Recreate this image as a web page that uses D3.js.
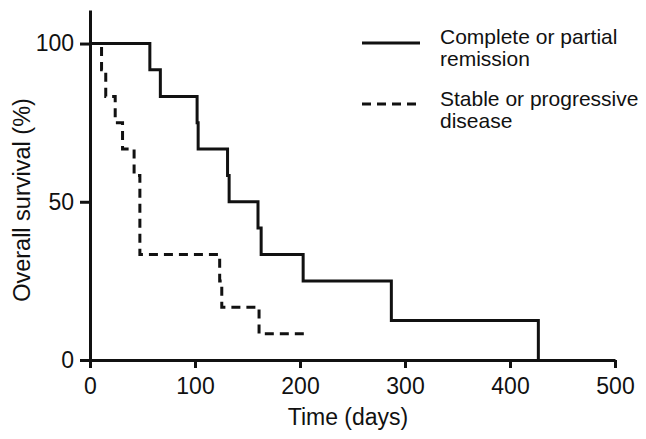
<!DOCTYPE html>
<html><head><meta charset="utf-8">
<script src="https://cdn.jsdelivr.net/npm/d3@7"></script>
<style>body{margin:0;background:#fff}svg{display:block}text{font-family:"Liberation Sans",Arial,sans-serif;fill:#111}</style>
</head><body>
<svg id="c" width="646" height="439"></svg>
<script>
const xTicks = [0, 100, 200, 300, 400, 500];
const yTicks = [0, 50, 100];
const remissionTime = [0, 57, 67, 102, 103, 131, 132.5, 160, 163, 203, 287, 427];
const remissionSurv = [100, 91.7, 83.3, 75, 66.7, 58.3, 50, 41.7, 33.3, 25, 12.5, 0];
const stableTime = [0, 11, 15, 24, 31, 42, 47.5, 123.5, 125.5, 161, 208];
const stableSurv = [100, 91.7, 83.3, 75, 66.7, 58.3, 33.3, 25, 16.7, 8.3, 8.3];
const seriesNames = ["Complete or partial remission", "Stable or progressive disease"];

const svg = d3.select("#c");
const x = d3.scaleLinear().domain([0, 500]).range([90, 615]);
const y = d3.scaleLinear().domain([0, 110.6]).range([360, 10]);

const line = d3.line().x(d => x(d[0])).y(d => y(d[1])).curve(d3.curveStepAfter);
const stable = stableTime.map((t, i) => [t, stableSurv[i]]);
const remission = remissionTime.map((t, i) => [t, remissionSurv[i]]);

svg.append("path").attr("d", line(stable)).attr("fill", "none").attr("stroke", "#111")
  .attr("stroke-width", 3).attr("stroke-dasharray", "9,6");
svg.append("path").attr("d", line(remission)).attr("fill", "none").attr("stroke", "#111")
  .attr("stroke-width", 3);

const gx = svg.append("g").attr("transform", "translate(0,360)")
  .call(d3.axisBottom(x).tickValues(xTicks).tickSize(8).tickSizeOuter(0).tickPadding(10));
const gy = svg.append("g").attr("transform", "translate(90,0)")
  .call(d3.axisLeft(y).tickValues(yTicks).tickSize(10).tickSizeOuter(0).tickPadding(6));
[gx, gy].forEach(g => {
  g.select(".domain").attr("stroke", "#111").attr("stroke-width", 3);
  g.selectAll(".tick line").attr("stroke", "#111").attr("stroke-width", 3);
  g.selectAll(".tick text").style("font-size", "23px").style("font-family", '"Liberation Sans",Arial,sans-serif').attr("fill", "#111");
});

svg.append("text").attr("x", 348).attr("y", 425).attr("text-anchor", "middle")
  .style("font-size", "23px").text("Time (days)");
svg.append("text").attr("transform", "translate(30,200) rotate(-90)").attr("text-anchor", "middle")
  .style("font-size", "23.5px").text("Overall survival (%)");

// legend
const leg = [
  {name: seriesNames[0], lines: ["Complete or partial", "remission"], dash: null, y: 43, base: 44},
  {name: seriesNames[1], lines: ["Stable or progressive", "disease"], dash: "9,6", y: 104, base: 106}
];
leg.forEach(l => {
  svg.append("line").attr("x1", 362).attr("x2", 420).attr("y1", l.y).attr("y2", l.y)
    .attr("stroke", "#111").attr("stroke-width", 3).attr("stroke-dasharray", l.dash);
  l.lines.forEach((t, i) => {
    svg.append("text").attr("x", 440).attr("y", l.base + i * 22).style("font-size", "21px").text(t);
  });
});
</script>
</body></html>
